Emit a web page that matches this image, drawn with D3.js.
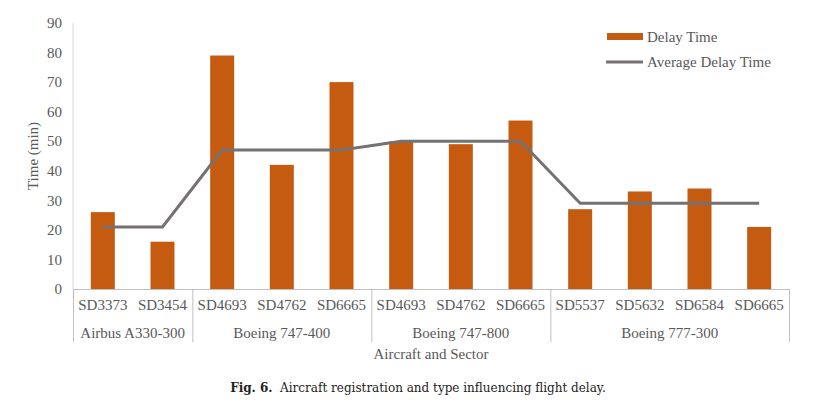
<!DOCTYPE html>
<html><head><meta charset="utf-8">
<script src="https://cdn.jsdelivr.net/npm/d3@7"></script>
<style>body{margin:0;background:#fff}svg text{font-family:"Liberation Serif","Times New Roman",serif}</style>
</head><body><svg id="c" width="837" height="406"></svg>
<script>
const sectors = ["SD3373","SD3454","SD4693","SD4762","SD6665","SD4693","SD4762","SD6665","SD5537","SD5632","SD6584","SD6665"];
const aircraft = ["Airbus A330-300","Boeing 747-400","Boeing 747-800","Boeing 777-300"];
const groupSizes = [2,3,3,4];
const delayTime = [26,16,79,42,70,50,49,57,27,33,34,21];
const avgDelay = [21,21,47,47,47,50,50,50,29,29,29,29];
const yTicks = [0,10,20,30,40,50,60,70,80,90];

(function(){
const svg = d3.select("#c");
const L = 73, R = 789, T = 23, B = 289;
const FS = 15;
const idx = d3.range(sectors.length);
const xs = d3.scaleBand().domain(idx).range([L,R]);
const y = d3.scaleLinear().domain([0,90]).range([B,T]);
const txt = "#595959", axc = "#BFBFBF";
const cx = i => xs(i)+xs.bandwidth()/2;

// y axis
svg.append("line").attr("x1",L).attr("x2",L).attr("y1",T).attr("y2",B).attr("stroke","#D9D9D9");
svg.selectAll(".yt").data(yTicks).enter().append("text")
  .attr("x",L-11).attr("y",d=>y(d)).attr("dy","0.35em").attr("text-anchor","end")
  .attr("font-size",FS).attr("fill",txt).text(d=>d);
svg.append("text").attr("transform",`translate(38,${(T+B)/2}) rotate(-90)`)
  .attr("text-anchor","middle").attr("font-size",FS).attr("fill",txt).text("Time (min)");

// bars
svg.selectAll(".bar").data(delayTime).enter().append("rect")
  .attr("x",(d,i)=>cx(i)-12).attr("width",24)
  .attr("y",d=>y(d)).attr("height",d=>B-y(d)).attr("fill","#C55A11");

// avg line
svg.append("path").datum(avgDelay)
  .attr("d",d3.line().x((d,i)=>cx(i)).y(d=>y(d)))
  .attr("fill","none").attr("stroke","#767171").attr("stroke-width",3);

// x axis
svg.append("line").attr("x1",L).attr("x2",R).attr("y1",B+0.5).attr("y2",B+0.5).attr("stroke",axc);
svg.selectAll(".xl").data(sectors).enter().append("text")
  .attr("x",(d,i)=>cx(i)).attr("y",305).attr("dy","0.35em")
  .attr("text-anchor","middle").attr("font-size",FS).attr("fill",txt).text(d=>d);
let s0 = 0;
const bounds = [0];
groupSizes.forEach(s=>{s0+=s;bounds.push(s0);});
const bx = d => d===sectors.length?R:xs(d);
svg.selectAll(".sep").data(bounds).enter().append("line")
  .attr("x1",d=>bx(d)+0.5).attr("x2",d=>bx(d)+0.5)
  .attr("y1",B).attr("y2",342).attr("stroke",axc);
svg.selectAll(".gl").data(aircraft).enter().append("text")
  .attr("x",(d,i)=>(bx(bounds[i])+bx(bounds[i+1]))/2)
  .attr("y",333).attr("dy","0.35em").attr("text-anchor","middle").attr("font-size",FS).attr("fill",txt).text(d=>d);
svg.append("text").attr("x",431).attr("y",354).attr("dy","0.35em").attr("text-anchor","middle")
  .attr("font-size",FS).attr("fill",txt).text("Aircraft and Sector");

// legend
const lg = svg.append("g");
lg.append("rect").attr("x",607).attr("y",33).attr("width",36).attr("height",7).attr("fill","#C55A11");
lg.append("text").attr("x",647).attr("y",37).attr("dy","0.35em").attr("font-size",FS).attr("fill",txt).text("Delay Time");
lg.append("line").attr("x1",606).attr("x2",643).attr("y1",62).attr("y2",62).attr("stroke","#767171").attr("stroke-width",3);
lg.append("text").attr("x",647).attr("y",62).attr("dy","0.35em").attr("font-size",FS).attr("fill",txt).text("Average Delay Time");

// caption
const cap = svg.append("text").attr("x",418).attr("y",388).attr("dy","0.35em").attr("text-anchor","middle")
  .attr("font-size",12).attr("fill","#222").style("font-family","'DejaVu Serif',serif");
cap.append("tspan").attr("font-weight","bold").text("Fig. 6.");
cap.append("tspan").text("\u00a0\u00a0Aircraft registration and type influencing flight delay.");
})();
</script></body></html>
